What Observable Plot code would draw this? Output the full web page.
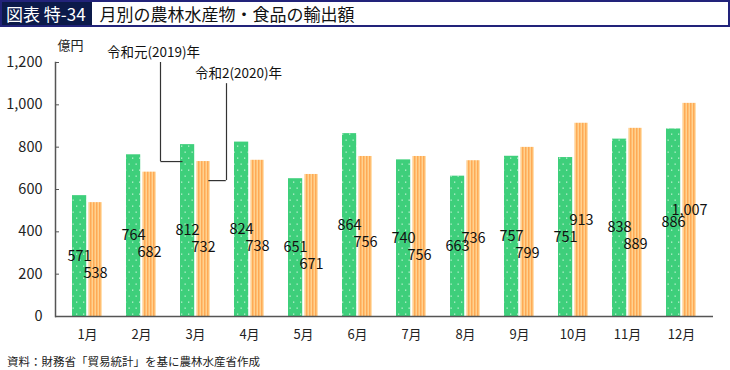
<!DOCTYPE html>
<html>
<head>
<meta charset="utf-8">
<script src="https://cdn.jsdelivr.net/npm/d3@7"></script>
<script src="https://cdn.jsdelivr.net/npm/@observablehq/plot@0.6"></script>
<style>
  html, body { margin: 0; padding: 0; background: #fff; }
  body { width: 730px; height: 370px; position: relative; overflow: hidden; font-family: "Noto Sans CJK JP", "Noto Sans", sans-serif; }
  #title { position: absolute; left: 0; top: 0; width: 726px; height: 23px; border: 2px solid #22237a; display: flex; align-items: center; }
  #title .tag { background: #0c1a4a; color: #fff; height: 100%; padding: 0 6px 0 4px; font-size: 17px; display: flex; align-items: center; }
  #title .main { color: #111; font-size: 17px; padding-left: 8px; }
  #chart { position: absolute; left: 0; top: 29px; }
  #caption { position: absolute; left: 7px; top: 353px; font-size: 11.5px; color: #222; }
</style>
</head>
<body>
<div id="title"><span class="tag">図表 特-34</span><span class="main">月別の農林水産物・食品の輸出額</span></div>
<div id="chart"></div>
<div id="caption">資料：財務省「貿易統計」を基に農林水産省作成</div>
<script>
const months = ["1月","2月","3月","4月","5月","6月","7月","8月","9月","10月","11月","12月"];
const exports2019 = [571,764,812,824,651,864,740,663,757,751,838,886];
const exports2020 = [538,682,732,738,671,756,756,736,799,913,889,1007];
const yTicks = [0,200,400,600,800,1000,1200];
const seriesNames = ["令和元(2019)年","令和2(2020)年"];
const yUnit = "億円";

const data = months.map((m, i) => ({month: m, v2019: exports2019[i], v2020: exports2020[i]}));
// label anchor: mid-height; 2020 labels pushed below the 2019 label when they would collide
const labels2020 = data.map(d => {
  const g = d.v2019 / 2, o = d.v2020 / 2;
  return {month: d.month, value: d.v2020, y: o > g + 30 ? o : Math.min(o, g - 80)};
});

const font = "Noto Sans CJK JP";
const chart = Plot.plot({
  width: 730,
  height: 318,
  marginLeft: 55,
  marginRight: 17,
  marginTop: 33,
  marginBottom: 31,
  style: {fontFamily: font, background: "transparent", color: "#222"},
  x: {domain: months, padding: 0, label: null},
  y: {domain: [0, 1200], label: null},
  marks: [
    Plot.barY(data, {x: "month", y: "v2019", fill: "url(#dots)", insetLeft: 12, insetRight: 27.8}),
    Plot.barY(data, {x: "month", y: "v2020", fill: "url(#stripes)", insetLeft: 28.5, insetRight: 12.3}),
    Plot.axisY({ticks: yTicks, tickSize: 0, tickPadding: 13, tickFormat: d3.format(","), fontSize: 14.5, fill: "#222"}),
    Plot.axisY({ticks: yTicks, tickSize: 4, dx: 4, tickFormat: () => "", stroke: "#555"}),
    Plot.axisX({tickSize: 0, tickPadding: 13, fontSize: 13, fill: "#222"}),
    Plot.frame({anchor: "left", stroke: "#555", strokeWidth: 1.5}),
    Plot.ruleY([0], {stroke: "#555", strokeWidth: 1.5}),
    Plot.text(data, {x: "month", y: d => d.v2019 / 2, text: d => d3.format(",")(d.v2019), dx: -8, fontSize: 14.5, fill: "#111"}),
    Plot.text(labels2020, {x: "month", y: "y", text: d => d3.format(",")(d.value), dx: 8, fontSize: 14.5, fill: "#111"}),
    Plot.text([yUnit], {frameAnchor: "top-left", dx: 2, dy: -22, textAnchor: "start", fontSize: 13, fill: "#222"}),
    // series annotations with leader lines pointing to the 3月 bars
    Plot.text([seriesNames[0]], {x: () => "3月", y: () => 1247, dx: -42, fontSize: 13.5, fill: "#111"}),
    Plot.ruleX(["3月"], {y1: 1200, y2: 732, dx: -35, stroke: "#333", strokeWidth: 1.2}),
    Plot.tickY([732], {y: d => d, x: () => "3月", insetLeft: -7.6, insetRight: 39.5, stroke: "#333", strokeWidth: 1.2}),
    Plot.text([seriesNames[1]], {x: () => "3月", y: () => 1148, dx: 43, fontSize: 13.5, fill: "#111"}),
    Plot.ruleX(["3月"], {y1: 1100, y2: 642, dx: 31, stroke: "#333", strokeWidth: 1.2}),
    Plot.tickY([642], {y: d => d, x: () => "3月", insetLeft: 40.3, insetRight: -3.8, stroke: "#333", strokeWidth: 1.2})
  ]
});

const defs = `
<defs>
  <pattern id="dots" patternUnits="userSpaceOnUse" width="7" height="12" x="1" y="0">
    <rect width="7" height="12" fill="#3ecf7b"/>
    <rect x="1.5" y="2.5" width="1.3" height="1.3" fill="#b9f0cf"/>
    <rect x="5" y="8.5" width="1.3" height="1.3" fill="#b9f0cf"/>
  </pattern>
  <pattern id="stripes" patternUnits="userSpaceOnUse" width="3" height="10">
    <rect width="3" height="10" fill="#ffd28f"/>
    <rect width="1.5" height="10" fill="#ffaa55"/>
  </pattern>
</defs>`;
chart.insertAdjacentHTML("afterbegin", defs);
document.getElementById("chart").appendChild(chart);
</script>
</body>
</html>
